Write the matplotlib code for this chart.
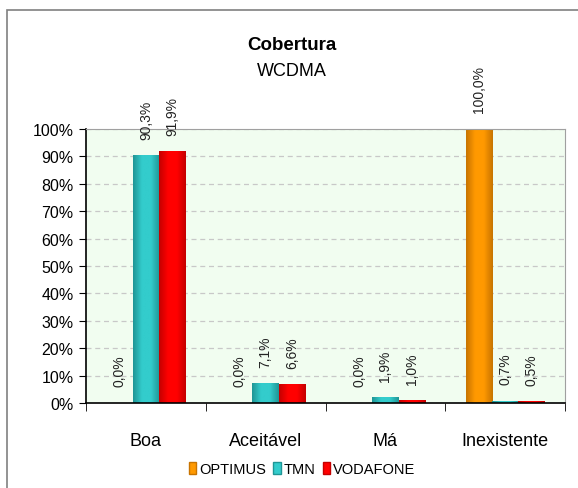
import matplotlib.pyplot as plt
import numpy as np
from matplotlib.patches import Rectangle
from matplotlib.colors import LinearSegmentedColormap

# ======================================================
# DATA
# ======================================================
CATEGORIES = ["Boa", "Aceitável", "Má", "Inexistente"]
OPTIMUS = [0.0, 0.0, 0.0, 100.0]
TMN = [90.3, 7.1, 1.9, 0.7]
VODAFONE = [91.9, 6.6, 1.0, 0.5]

SERIES = ["OPTIMUS", "TMN", "VODAFONE"]
# (borda, centro) para o efeito de gradiente
COLORS = {
    "OPTIMUS": ("#c87400", "#ff9900"),
    "TMN": ("#1f9696", "#33cccc"),
    "VODAFONE": ("#c40000", "#ff0000"),
}

plt.rcParams["font.family"] = ["Liberation Sans Narrow", "Liberation Sans", "DejaVu Sans"]

fig = plt.figure(figsize=(5.78, 4.89), dpi=100)
ax = fig.add_axes([0.1488, 0.1738, 0.8287, 0.5604])
ax.set_facecolor("#f1fdf0")

# moldura do gráfico
fig.patches.append(Rectangle((7 / 578, -0.05), 1.1, 1 - 11 / 489 + 0.05,
                             transform=fig.transFigure, fill=False,
                             edgecolor="#808080", linewidth=1.2))

x = np.arange(len(CATEGORIES))
w = 0.22
values = {"OPTIMUS": OPTIMUS, "TMN": TMN, "VODAFONE": VODAFONE}

for i, name in enumerate(SERIES):
    edge, mid = COLORS[name]
    cmap = LinearSegmentedColormap.from_list(name, [edge, mid, mid, edge])
    bars = ax.bar(x + (i - 1) * w, values[name], width=w, color=mid,
                  label=name, zorder=2)
    for b in bars:
        h = b.get_height()
        if h > 0:
            grad = np.linspace(0, 1, 64).reshape(1, -1)
            ax.imshow(grad, cmap=cmap, aspect="auto", zorder=2.5,
                      extent=(b.get_x(), b.get_x() + b.get_width(), 0, h))
        ax.annotate(f"{h:.1f}%".replace(".", ","),
                    (b.get_x() + b.get_width() / 2, h),
                    xytext=(0, 12), textcoords="offset points",
                    rotation=90, ha="center", va="bottom", fontsize=10,
                    color="#222222")

ax.set_xlim(-0.5, 3.5)
ax.set_ylim(0, 100)
ax.set_yticks(np.arange(0, 101, 10))
ax.set_yticklabels([f"{v}%" for v in range(0, 101, 10)], fontsize=11.5)
ax.yaxis.grid(True, linestyle=(0, (4, 3)), color="#c8c8c8", linewidth=0.9)
ax.set_axisbelow(True)

ax.set_xticks(x)
ax.set_xticklabels(CATEGORIES, fontsize=13)
ax.tick_params(axis="x", length=0, pad=21)
ax.set_xticks(np.arange(-0.5, 4, 1), minor=True)
ax.tick_params(axis="x", which="minor", length=6, direction="out")
ax.tick_params(axis="y", length=5, direction="out", pad=4)

for s in ["left", "bottom"]:
    ax.spines[s].set_color("black")
    ax.spines[s].set_linewidth(1.2)
for s in ["top", "right"]:
    ax.spines[s].set_color("#a0a0a0")

fig.text(292 / 578, 1 - 46 / 489, "Cobertura", ha="center", va="center",
         fontsize=13.5, fontweight="bold")
fig.text(292 / 578, 1 - 72 / 489, "WCDMA", ha="center", va="center", fontsize=13)

handles = [Rectangle((0, 0), 1, 1, facecolor=COLORS[n][1], edgecolor=COLORS[n][0])
           for n in SERIES]
fig.legend(handles, SERIES, loc="center", bbox_to_anchor=(302 / 578, 1 - 470 / 489),
           ncol=3, frameon=False, fontsize=10.5, handlelength=0.5, handleheight=0.8,
           handletextpad=0.2, columnspacing=0.5)

fig.savefig("out.png", dpi=100)
